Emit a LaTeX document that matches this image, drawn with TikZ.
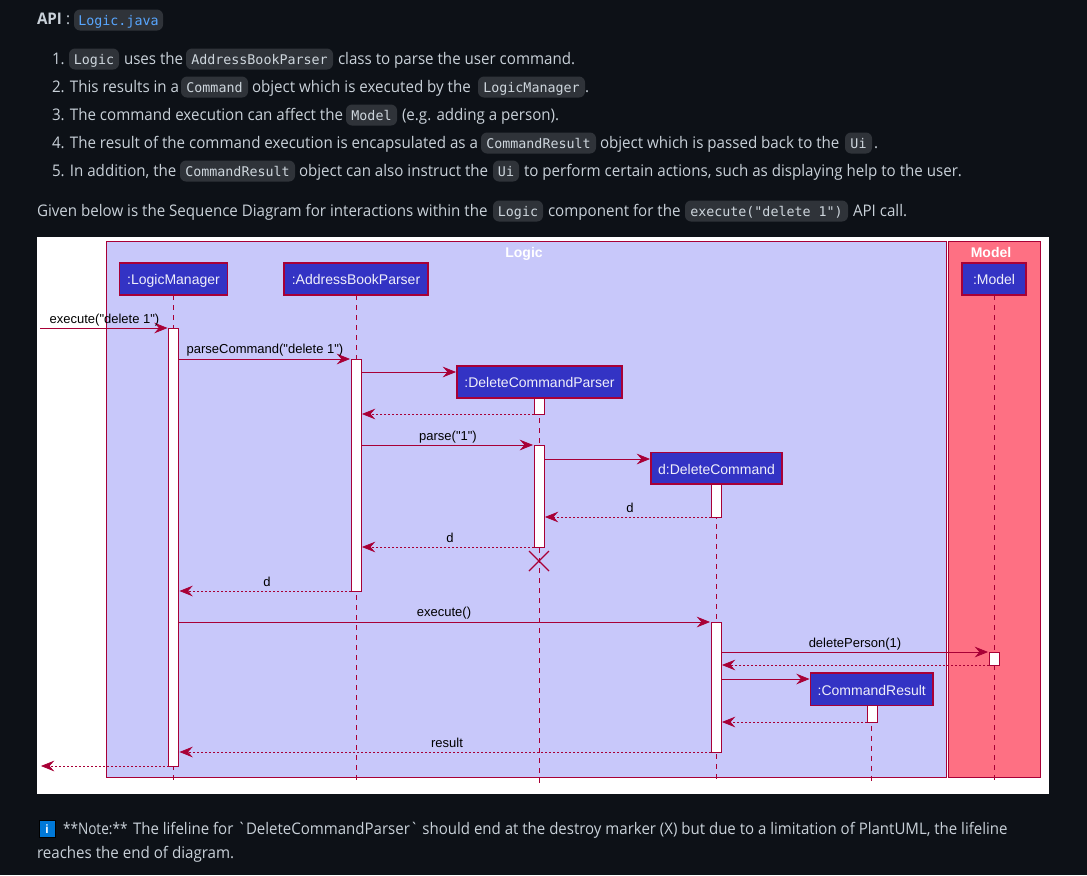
\documentclass[tikz,border=0pt]{standalone}
\usepackage{fontspec}
\newfontfamily\bodyfont[FakeStretch=0.945]{Open Sans}
\newfontfamily\notestarfont[FakeStretch=0.85]{Open Sans}
\newfontfamily\noterestfont[FakeStretch=0.939]{Open Sans}
\newfontfamily\codefont{DejaVu Sans Mono}
\newfontfamily\umlfont{Liberation Sans}
\usetikzlibrary{arrows.meta}
\definecolor{pagebg}{HTML}{0D1117}
\definecolor{chipbg}{HTML}{2F3339}
\definecolor{bodytext}{HTML}{C9D1D9}
\definecolor{linkblue}{HTML}{58A6FF}
\definecolor{umlred}{HTML}{A80036}
\definecolor{logicbg}{HTML}{C8C8FA}
\definecolor{modelbg}{HTML}{FE7083}
\definecolor{partbg}{HTML}{3333C4}
\definecolor{infoblue}{HTML}{0078D7}
\tikzset{
  x=0.75pt,y=-0.75pt,
  txt/.style={anchor=base west,inner sep=0pt,outer sep=0pt,text=bodytext,font=\bodyfont\fontsize{12}{14}\selectfont},
  chipbox/.style={rectangle,rounded corners=4.5pt,fill=chipbg,inner sep=0pt,outer sep=0pt,minimum height=15.75pt},
  chiptext/.style={anchor=base,inner sep=0pt,text=bodytext!90!white,font=\codefont\fontsize{10}{12}\selectfont},
  frameboxstyle/.style={rectangle,draw=umlred,line width=0.6pt,inner sep=0pt,outer sep=0pt},
  part/.style={rectangle,draw=umlred,line width=1pt,fill=partbg,text=white!92!partbg,inner sep=0pt,outer sep=0pt,text height=10.2pt,text depth=1.5pt,font=\umlfont\fontsize{10.5}{12}\selectfont},
  actbox/.style={rectangle,draw=umlred,line width=0.7pt,fill=white,inner sep=0pt,outer sep=0pt,minimum width=7.5pt},
  life/.style={draw=umlred,line width=0.6pt,dash pattern=on 3.75pt off 3.75pt},
  msg/.style={draw=umlred,line width=0.6pt,-{Stealth[length=10pt,width=8pt,inset=3.5pt]},shorten >=0.7pt},
  ret/.style={msg,dash pattern=on 1.5pt off 1.5pt},
  lbl/.style={anchor=base,inner sep=0pt,text=black,font=\umlfont\fontsize{9.75}{12}\selectfont},
}
% #1 name, #2 x1, #3 x2, #4 y centre, #5 text
\newcommand{\codechip}[5]{%
  \pgfmathsetmacro{\chipw}{(#3-#2)*0.75}%
  \node[chipbox,minimum width=\chipw pt] (#1) at ({(#2+#3)/2},#4) {};
  \node[chiptext] (#1t) at ({(#2+#3)/2},#4+5) {#5};
}
% #1 name, #2 x centre, #3 y top, #4 y bottom
\newcommand{\actbar}[4]{%
  \pgfmathsetmacro{\acth}{(#4-#3)*0.75}%
  \node[actbox,minimum height=\acth pt] (#1) at (#2,{(#3+#4)/2}) {};
}
% #1 name, #2 x1, #3 x2, #4 y1, #5 y2, #6 text
\newcommand{\partbox}[6]{%
  \pgfmathsetmacro{\pw}{(#3-#2)*0.75}%
  \pgfmathsetmacro{\ph}{(#5-#4)*0.75}%
  \node[part,minimum width=\pw pt,minimum height=\ph pt] (#1) at ({(#2+#3)/2},{(#4+#5)/2}) {#6};
}
\begin{document}
\begin{tikzpicture}
\useasboundingbox (0,0) rectangle (1087,875);
\fill[pagebg] (0,0) rectangle (1087,875);

% prose
\node[txt,font=\bodyfont\bfseries\fontsize{12}{14}\selectfont] (apihead) at (37,24) {API};
\node[txt] (apicolon) at (66,24) {:};
\codechip{cApi}{74}{163}{20}{\textcolor{linkblue}{Logic.java}}

\node[txt] (a1) at (52,64) {1.};
\codechip{c1a}{69}{119}{59}{Logic}
\node[txt] (a2) at (124,64) {uses the};
\codechip{c1b}{186}{333}{59}{AddressBookParser}
\node[txt] (a3) at (338,64) {class to parse the user command.};

\node[txt] (b1) at (52,92) {2. This results in a};
\codechip{c2a}{181}{248}{87}{Command}
\node[txt] (b2) at (252,92) {object which is executed by the};
\codechip{c2b}{478}{585}{87}{LogicManager}
\node[txt] (b3) at (585,92) {.};

\node[txt] (d1) at (52,120) {3. The command execution can affect the};
\codechip{c3a}{346}{397}{115}{Model}
\node[txt] (d2) at (402,120) {(e.g. adding a person).};

\node[txt] (e1) at (52,148) {4. The result of the command execution is encapsulated as a};
\codechip{c4a}{481}{596}{143}{CommandResult}
\node[txt] (e2) at (600,148) {object which is passed back to the};
\codechip{c4b}{845}{872}{143}{Ui}
\node[txt] (e3) at (874,148) {.};

\node[txt] (f1) at (52,176) {5. In addition, the};
\codechip{c5a}{180}{295}{171}{CommandResult}
\node[txt] (f2) at (299,176) {object can also instruct the};
\codechip{c5b}{493}{519}{171}{Ui}
\node[txt] (f3) at (524,176) {to perform certain actions, such as displaying help to the user.};

\node[txt] (g1) at (37,216) {Given below is the Sequence Diagram for interactions within the};
\codechip{c6a}{493}{543}{211}{Logic}
\node[txt] (g2) at (548,216) {component for the};
\codechip{c6b}{685}{848}{211}{execute("delete 1")}
\node[txt] (g3) at (853,216) {API call.};

% diagram sheet
\fill[white] (37,237) rectangle (1049,794);
\draw[frameboxstyle,fill=logicbg] (106,241) rectangle (946.5,777);
\draw[frameboxstyle,fill=modelbg] (948,241) rectangle (1040,777);
\node[anchor=base,inner sep=0pt,text=white,font=\umlfont\bfseries\fontsize{10.5}{12}\selectfont] (logicT) at (524,257) {Logic};
\node[anchor=base,inner sep=0pt,text=white,font=\umlfont\bfseries\fontsize{10.5}{12}\selectfont] (modelT) at (991,257) {Model};

% participants
\partbox{pLM}{119.5}{227.5}{263}{295}{:LogicManager}
\partbox{pAB}{284}{428}{263}{295}{:AddressBookParser}
\partbox{pDP}{457}{622}{366}{398}{:DeleteCommandParser}
\partbox{pDC}{651}{782}{452.5}{484}{d:DeleteCommand}
\partbox{pCR}{810.5}{933}{673}{705.5}{:CommandResult}
\partbox{pMO}{962}{1026}{263}{295}{:Model}

% lifeline ends and rows
\coordinate (bottom) at (0,783);
\coordinate (r328) at (0,328);
\coordinate (r359) at (0,359);
\coordinate (r372) at (0,372);
\coordinate (r414) at (0,414);
\coordinate (r445) at (0,445);
\coordinate (r459) at (0,459);
\coordinate (r517) at (0,517);
\coordinate (r547) at (0,547);
\coordinate (r591) at (0,591);
\coordinate (r622) at (0,622);
\coordinate (r652) at (0,652);
\coordinate (r665) at (0,665);
\coordinate (r679) at (0,679);
\coordinate (r722) at (0,722);
\coordinate (r752) at (0,752);
\coordinate (r766) at (0,766);
\coordinate (outIn) at (40,328);
\coordinate (outOut) at (40,766);

\draw[life] (pLM.south) -- (pLM.south |- bottom);
\draw[life] (pAB.south) -- (pAB.south |- bottom);
\draw[life] (pDP.south) -- (pDP.south |- bottom);
\draw[life] (pDC.south) -- (pDC.south |- bottom);
\draw[life] (pCR.south) -- (pCR.south |- bottom);
\draw[life] (pMO.south) -- (pMO.south |- bottom);

% activations
\actbar{aLM}{173.5}{328}{766}
\actbar{aAB}{356}{359}{591}
\actbar{aDPa}{539}{398}{414}
\actbar{aDPb}{539}{445}{547}
\actbar{aDCa}{716}{484}{517}
\actbar{aDCb}{716}{622}{752}
\actbar{aCR}{872}{705.5}{722}
\actbar{aMO}{994}{652}{665}
\node[inner sep=0pt,minimum size=15pt,outer sep=0pt] (xDP) at (539,561) {};
\draw[umlred,line width=1pt] (xDP.north west) -- (xDP.south east) (xDP.north east) -- (xDP.south west);

% redraw participant boxes over activation tops
\partbox{pDP}{457}{622}{366}{398}{:DeleteCommandParser}
\partbox{pDC}{651}{782}{452.5}{484}{d:DeleteCommand}
\partbox{pCR}{810.5}{933}{673}{705.5}{:CommandResult}

% messages
\draw[msg] (outIn) -- (aLM.west |- r328);
\draw[msg] (aLM.east |- r359) -- (aAB.west |- r359);
\draw[msg] (aAB.east |- r372) -- (pDP.west |- r372);
\draw[ret] (aDPa.west |- r414) -- (aAB.east |- r414);
\draw[msg] (aAB.east |- r445) -- (aDPb.west |- r445);
\draw[msg] (aDPb.east |- r459) -- (pDC.west |- r459);
\draw[ret] (aDCa.west |- r517) -- (aDPb.east |- r517);
\draw[ret] (aDPb.west |- r547) -- (aAB.east |- r547);
\draw[ret] (aAB.west |- r591) -- (aLM.east |- r591);
\draw[msg] (aLM.east |- r622) -- (aDCb.west |- r622);
\draw[msg] (aDCb.east |- r652) -- (aMO.west |- r652);
\draw[ret] (aMO.west |- r665) -- (aDCb.east |- r665);
\draw[msg] (aDCb.east |- r679) -- (pCR.west |- r679);
\draw[ret] (aCR.west |- r722) -- (aDCb.east |- r722);
\draw[ret] (aDCb.west |- r752) -- (aLM.east |- r752);
\draw[ret] (aLM.west |- r766) -- (outOut);

% message labels
\node[lbl] (m1) at (104.5,323) {execute("delete 1")};
\node[lbl] (m2) at (265,353) {parseCommand("delete 1")};
\node[lbl] (m3) at (448,440) {parse("1")};
\node[lbl] (m4) at (630,512) {d};
\node[lbl] (m5) at (450,542) {d};
\node[lbl] (m6) at (267,586) {d};
\node[lbl] (m7) at (444,616) {execute()};
\node[lbl] (m8) at (855,647) {deletePerson(1)};
\node[lbl] (m9) at (447,747) {result};

% note
\node[rectangle,fill=infoblue,draw=black,line width=0.5pt,minimum width=12pt,minimum height=12.5pt,inner sep=0pt,text=white,font=\umlfont\bfseries\fontsize{9}{10}\selectfont] (info) at (47,829) {i};
\node[txt,font=\notestarfont\fontsize{12}{14}\selectfont] (n0) at (63,834) {**Note:**};
\node[txt,font=\noterestfont\fontsize{12}{14}\selectfont] (n1) at (133,834) {The lifeline for `DeleteCommandParser` should end at the destroy marker (X) but due to a limitation of PlantUML, the lifeline};
\node[txt] (n2) at (37,858) {reaches the end of diagram.};
\end{tikzpicture}
\end{document}
